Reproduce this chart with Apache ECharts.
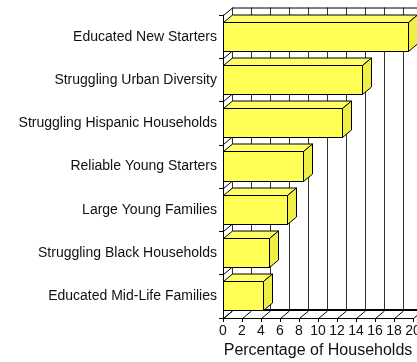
<!DOCTYPE html>
<html>
<head>
<meta charset="utf-8">
<script src="https://cdn.jsdelivr.net/npm/echarts@6/dist/echarts.min.js"></script>
<style>
  html, body { margin: 0; padding: 0; background: #fff; }
  #chart { width: 417px; height: 362px; }
</style>
</head>
<body>
<div id="chart"></div>
<script>
// Household segments, top to bottom
const categories = [
  'Educated New Starters',
  'Struggling Urban Diversity',
  'Struggling Hispanic Households',
  'Reliable Young Starters',
  'Large Young Families',
  'Struggling Black Households',
  'Educated Mid-Life Families'
];
// Percentage of households per segment
const values = [19.5, 14.7, 12.6, 8.5, 6.8, 4.9, 4.3];
// Value axis ticks
const xTicks = [0, 2, 4, 6, 8, 10, 12, 14, 16, 18, 20];

// Pseudo-3D depth offset (pixels): back plane is shifted right and up
const DX = 9;
const DY = -7.5;
const FRONT = { left: 223, top: 15, width: 190, height: 303 };
const FONT = '"Liberation Sans", Arial, sans-serif';

const snap = v => Math.round(v - 0.5) + 0.5;
const line = (x1, y1, x2, y2, w) => ({
  type: 'line',
  shape: { x1: x1, y1: y1, x2: x2, y2: y2 },
  style: { stroke: '#000', lineWidth: w || 1 }
});

const chart = echarts.init(document.getElementById('chart'), null, { renderer: 'canvas' });

chart.setOption({
  animation: false,
  backgroundColor: '#fff',
  grid: [
    { left: FRONT.left, top: FRONT.top, width: FRONT.width, height: FRONT.height, containLabel: false, outerBoundsMode: 'none' },
    { left: FRONT.left + DX, top: FRONT.top + DY, width: FRONT.width, height: FRONT.height, containLabel: false, outerBoundsMode: 'none' }
  ],
  xAxis: [
    {
      type: 'value', gridIndex: 0, min: 0, max: 20, interval: 2,
      name: 'Percentage of Households', nameLocation: 'middle', nameGap: 25,
      nameTextStyle: { fontFamily: FONT, fontSize: 16, color: '#111' },
      axisLine: { show: true, lineStyle: { color: '#000', width: 1 } },
      axisTick: { show: true, length: 4, lineStyle: { color: '#000' } },
      axisLabel: { fontFamily: FONT, fontSize: 14, color: '#111', margin: 6, showMaxLabel: true, showMinLabel: true },
      splitLine: { show: false }
    },
    {
      type: 'value', gridIndex: 1, min: 0, max: 20, interval: 2,
      axisLine: { show: false }, axisTick: { show: false }, axisLabel: { show: false },
      splitLine: { show: true, lineStyle: { color: '#333', width: 1 } }
    }
  ],
  yAxis: [
    {
      type: 'category', gridIndex: 0, data: categories, inverse: true,
      axisLine: { show: true, lineStyle: { color: '#000', width: 1 } },
      axisTick: { show: true, length: 4, lineStyle: { color: '#000' } },
      axisLabel: { fontFamily: FONT, fontSize: 14, color: '#111', margin: 6 },
      splitLine: { show: false }
    },
    {
      type: 'category', gridIndex: 1, data: categories, inverse: true, show: false
    }
  ],
  series: [
    {
      // floor: depth lines from each front tick back to the wall
      type: 'custom', name: 'floor', xAxisIndex: 0, yAxisIndex: 0, silent: true, z: 3,
      data: xTicks.map(v => [v]),
      renderItem: function (params, api) {
        const cs = params.coordSys;
        const x = snap(api.coord([api.value(0), 0])[0]);
        const y = snap(cs.y + cs.height);
        return { type: 'group', children: [line(x, y, x + DX, y + DY)] };
      }
    },
    {
      // left wall separators, top edge of back wall and back floor edge
      type: 'custom', name: 'walls', xAxisIndex: 0, yAxisIndex: 0, silent: true, z: 3,
      data: categories.map((_, i) => [i]).concat([[categories.length]]),
      renderItem: function (params, api) {
        const cs = params.coordSys;
        const k = api.value(0);
        const band = api.size([0, 1])[1];
        const x0 = snap(cs.x);
        const xr = cs.x + cs.width;
        const y = snap(cs.y + k * band);
        const kids = [line(x0, y, x0 + DX, y + DY)];
        if (k === 0) kids.push(line(x0 + DX, y + DY, xr + DX, y + DY));
        if (k === categories.length) kids.push(line(x0 + DX, snap(cs.y + cs.height + DY) - 0.5, xr + DX, snap(cs.y + cs.height + DY) - 0.5, 2));
        return { type: 'group', children: kids };
      }
    },
    {
      type: 'custom', name: 'bars', xAxisIndex: 0, yAxisIndex: 0, z: 5,
      data: values.map((v, i) => [i, v]),
      renderItem: function (params, api) {
        const cat = api.value(0);
        const v = api.value(1);
        const c0 = api.coord([0, cat]);
        const c1 = api.coord([v, cat]);
        const h = api.size([0, 1])[1] * 0.67;
        const x0 = snap(c0[0]), x1 = snap(c1[0]);
        const yt = snap(c0[1] - h / 2), yb = snap(c0[1] + h / 2);
        const stroke = { stroke: '#000', lineWidth: 1, lineJoin: 'miter' };
        return {
          type: 'group',
          children: [
            {
              type: 'polygon',
              shape: { points: [[x0, yt], [x1, yt], [x1 + DX, yt + DY], [x0 + DX, yt + DY]] },
              style: Object.assign({ fill: '#ffff66' }, stroke)
            },
            {
              type: 'polygon',
              shape: { points: [[x1, yt], [x1 + DX, yt + DY], [x1 + DX, yb + DY], [x1, yb]] },
              style: Object.assign({ fill: '#eeee44' }, stroke)
            },
            {
              type: 'rect',
              shape: { x: x0, y: yt, width: x1 - x0, height: yb - yt },
              style: Object.assign({ fill: '#ffff55' }, stroke)
            }
          ]
        };
      }
    }
  ]
});
</script>
</body>
</html>
